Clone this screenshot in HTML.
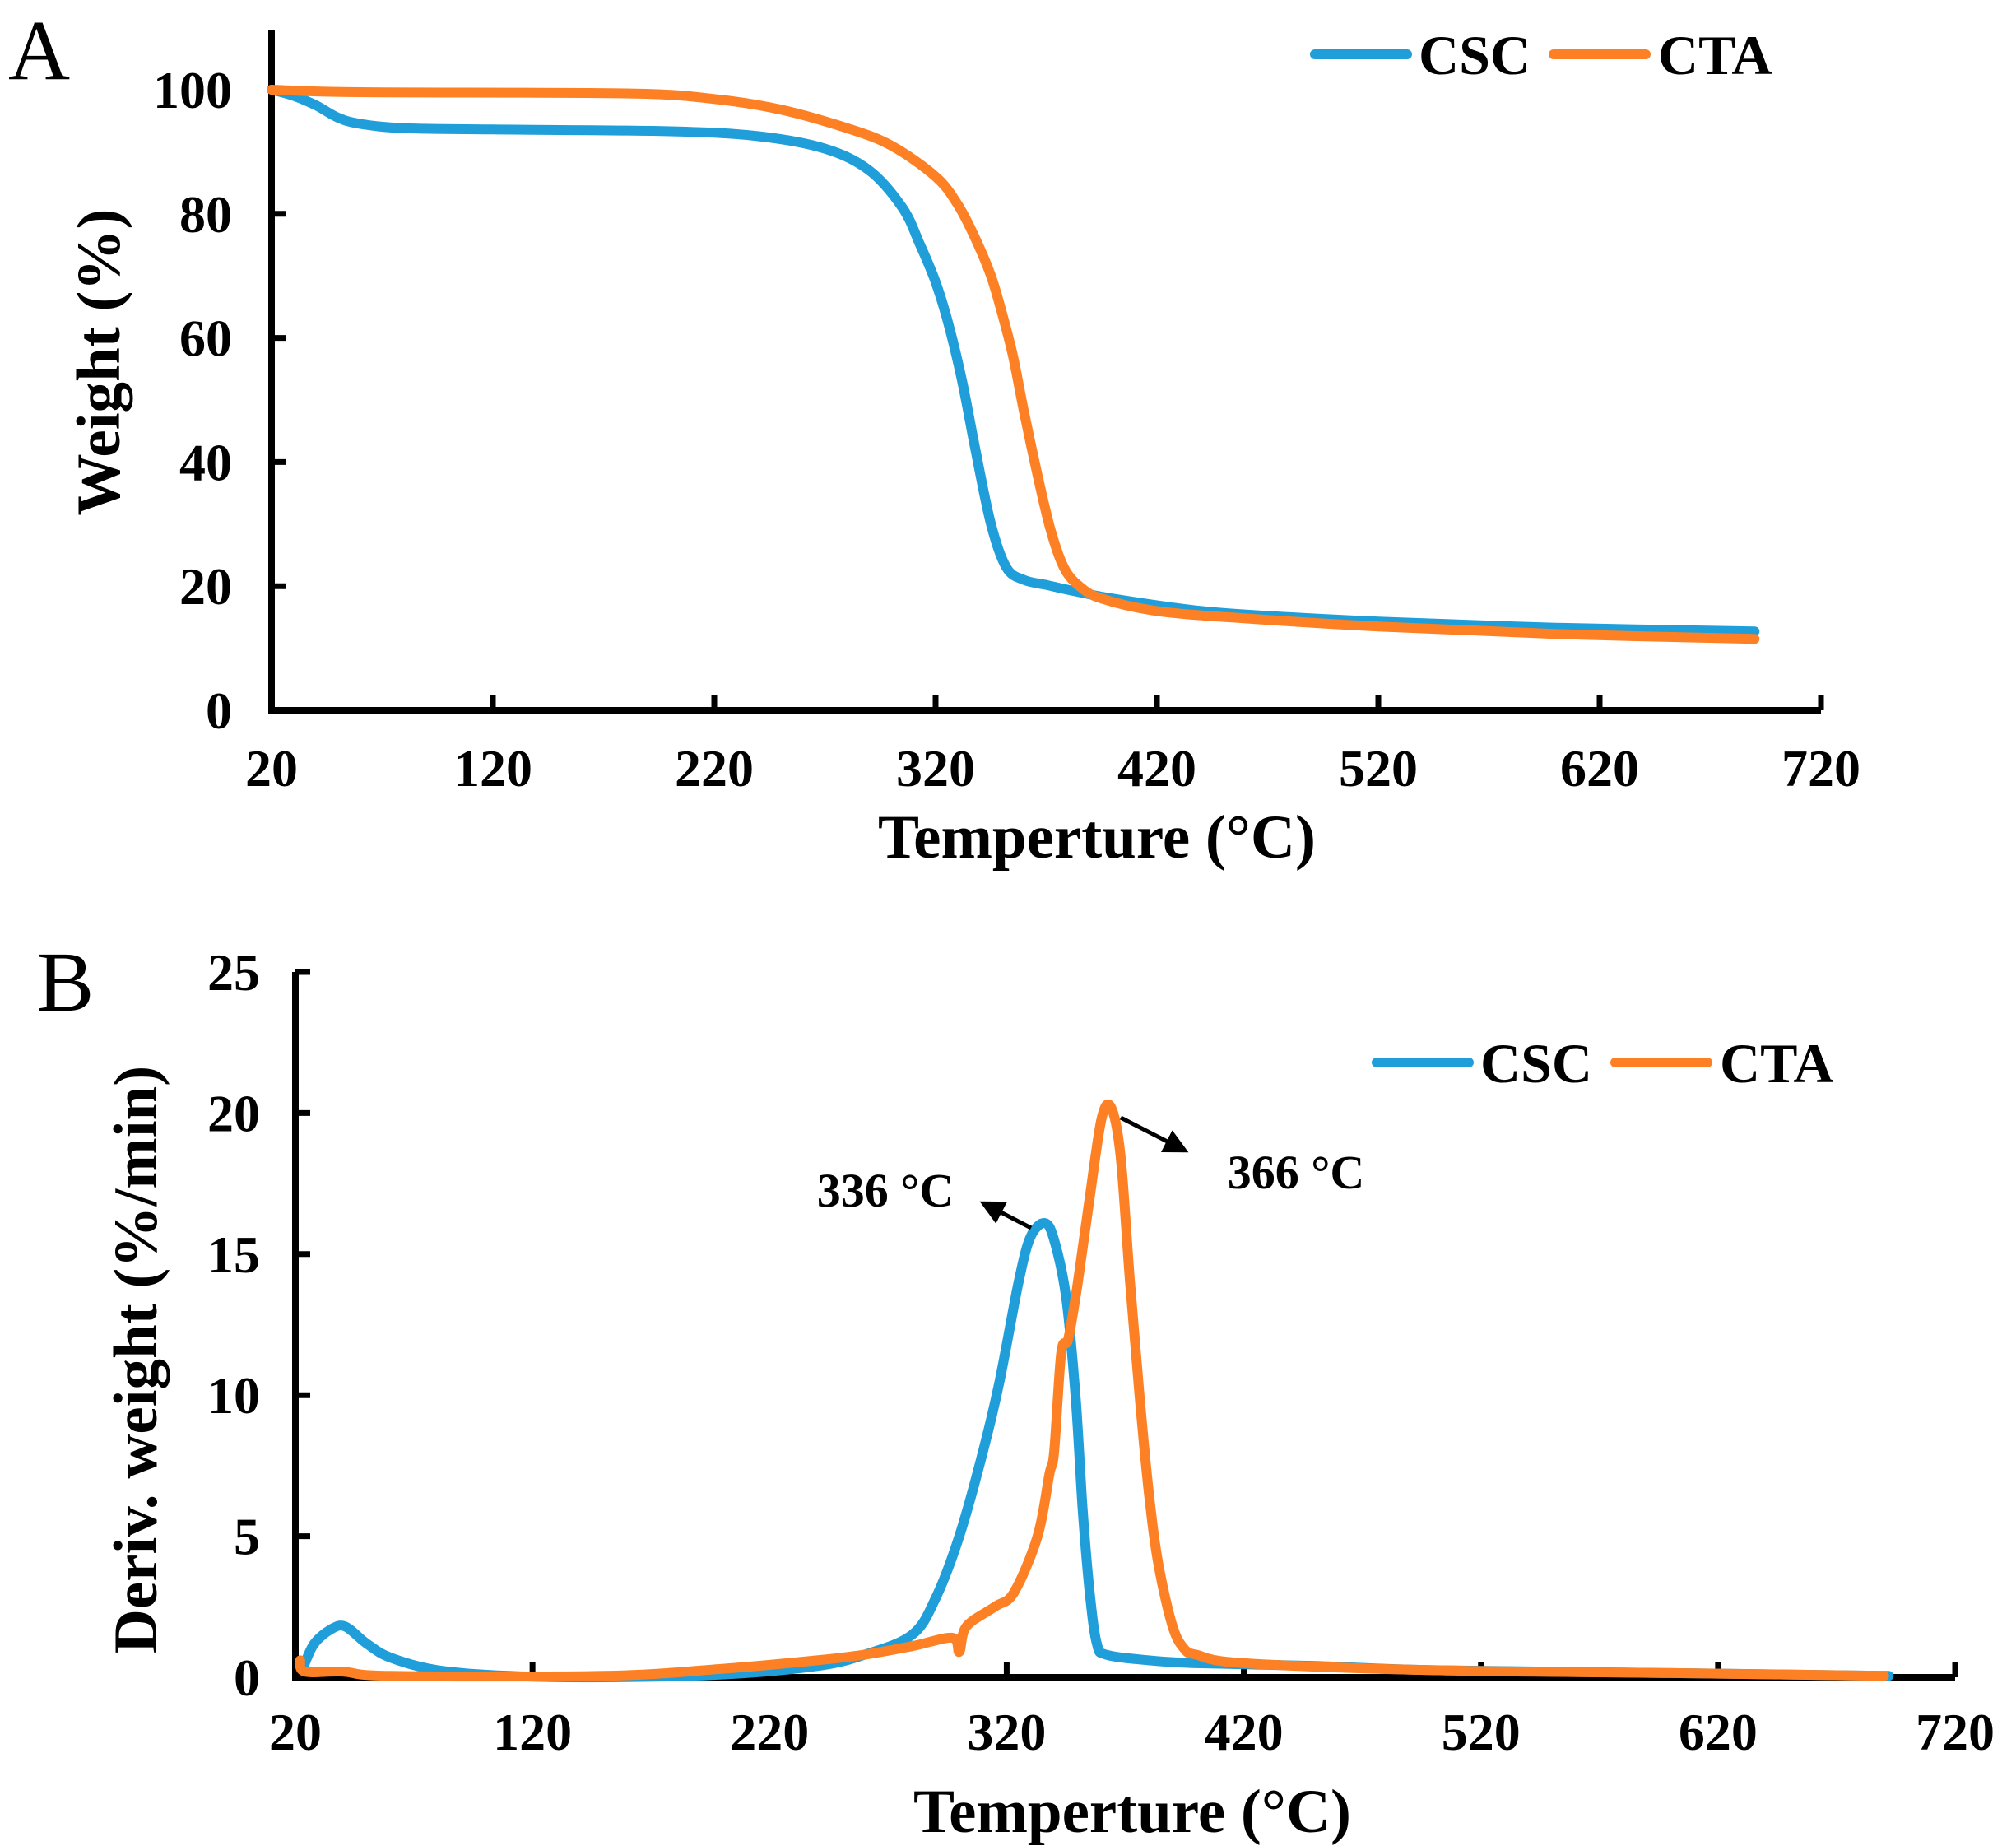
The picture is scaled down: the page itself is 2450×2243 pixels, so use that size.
<!DOCTYPE html>
<html><head><meta charset="utf-8"><style>
html,body{margin:0;padding:0;background:#fff}
svg{display:block}
text{font-family:"Liberation Serif",serif;fill:#000}
.tk{font-size:64px;font-weight:bold}
.ttl{font-size:75px;font-weight:bold}
.lg{font-size:68px;font-weight:bold}
</style></head><body>
<svg id="fig" width="2450" height="2243" viewBox="0 0 2450 2243" xmlns="http://www.w3.org/2000/svg">
<text x="10" y="96" font-size="104">A</text>
<text x="45" y="1228" font-size="104">B</text>
<g id="pa"></g>
<g id="pb"></g>
<text class="ttl" x="1333" y="1042" text-anchor="middle">Temperture (°C)</text>
<text class="ttl" transform="translate(145,440) rotate(-90)" text-anchor="middle">Weight (%)</text>
<text class="ttl" x="1376" y="2226" text-anchor="middle">Temperture (°C)</text>
<text class="ttl" transform="translate(190,1652) rotate(-90)" text-anchor="middle">Deriv. weight (%/min)</text>
<g>
<line x1="1598" y1="66" x2="1710" y2="66" stroke="#1f9ed9" stroke-width="12" stroke-linecap="round"/>
<text class="lg" x="1724" y="90">CSC</text>
<line x1="1888" y1="66" x2="2000" y2="66" stroke="#fd8024" stroke-width="12" stroke-linecap="round"/>
<text class="lg" x="2015" y="90">CTA</text>
</g>
<g>
<line x1="1673" y1="1291" x2="1785" y2="1291" stroke="#1f9ed9" stroke-width="12" stroke-linecap="round"/>
<text class="lg" x="1799" y="1315">CSC</text>
<line x1="1963" y1="1291" x2="2075" y2="1291" stroke="#fd8024" stroke-width="12" stroke-linecap="round"/>
<text class="lg" x="2090" y="1315">CTA</text>
</g>
<defs><marker id="ah" markerWidth="6" markerHeight="6" refX="5" refY="3" orient="auto" markerUnits="strokeWidth"><path d="M0,0 L6,3 L0,6 Z" fill="#000"/></marker></defs>
<line x1="1253" y1="1492" x2="1195" y2="1462" stroke="#000" stroke-width="5" marker-end="url(#ah)"/>
<text x="1076" y="1466" font-size="58" font-weight="bold" text-anchor="middle">336 °C</text>
<line x1="1362" y1="1358" x2="1440" y2="1398" stroke="#000" stroke-width="5" marker-end="url(#ah)"/>
<text x="1575" y="1444" font-size="58" font-weight="bold" text-anchor="middle">366 °C</text>
</svg>
<script>
const xTicks=[20,120,220,320,420,520,620,720];
const aYTicks=[0,20,40,60,80,100];
const bYTicks=[0,5,10,15,20,25];
const aCscT=[20,30,40,50,60,80,120,200,240,270,290,305,313,320,326,332,338,345,352,360,370,380,400,440,480,520,600,690];
const aCscW=[100,99,97.5,95.5,94.5,93.8,93.6,93.3,92.5,90.5,87,81,75,69,62,53,42,30,23,21,20.2,19.4,18,16,15,14.3,13.3,12.7];
const aCtaT=[20,60,180,220,250,280,300,320,330,338,345,350,355,360,366,372,378,385,395,420,460,520,600,690];
const aCtaW=[100,99.6,99.4,98.5,96.8,93.8,91,86,81.5,76,70,64,57,48,38,29,23,20,18,16,14.8,13.5,12.3,11.5];
const bCscT=[24,28,35,41,50,60,80,110,150,200,240,260,280,290,300,310,317,325,330,336,340,345,349,352,355,358,362,380,400,450,500,600,692];
const bCscD=[0.5,1.2,1.7,1.8,1.2,0.7,0.25,0.05,0,0.1,0.4,0.8,1.5,2.8,5,8,10.5,14,15.6,16.1,15.5,13.5,10,6,3,1.2,0.8,0.6,0.5,0.4,0.25,0.15,0.05];
const bCtaT=[22,24,40,60,150,200,240,260,280,297,300,303,315,323,333,338,340,343,346,350,355,360,364,368,372,376,380,384,390,395,400,420,500,600,690];
const bCtaD=[0.6,0.2,0.2,0.05,0.05,0.3,0.6,0.8,1.1,1.4,0.9,1.8,2.5,3,5,7.2,8,11.5,12,14,17,19.8,20.2,18.5,14,10,6.5,4,1.8,1,0.8,0.5,0.25,0.15,0.05];
const NS='http://www.w3.org/2000/svg';
function mk(tag,at,parent){const e=document.createElementNS(NS,tag);for(const k in at)e.setAttribute(k,at[k]);parent.appendChild(e);return e;}
function smooth(p){
  let d='M'+p[0][0].toFixed(1)+','+p[0][1].toFixed(1);
  for(let i=0;i<p.length-1;i++){
    const p0=p[Math.max(0,i-1)],p1=p[i],p2=p[i+1],p3=p[Math.min(p.length-1,i+2)];
    const c1x=p1[0]+(p2[0]-p0[0])/6,c1y=p1[1]+(p2[1]-p0[1])/6;
    const c2x=p2[0]-(p3[0]-p1[0])/6,c2y=p2[1]-(p3[1]-p1[1])/6;
    d+=` C${c1x.toFixed(1)},${c1y.toFixed(1)} ${c2x.toFixed(1)},${c2y.toFixed(1)} ${p2[0].toFixed(1)},${p2[1].toFixed(1)}`;
  }
  return d;
}
function panel(g,x0,x1,y0,yTop,yMax,yTicks,yLblX,series,tickDy,pfx){
  const sx=t=>x0+(t-20)/700*(x1-x0);
  const sy=v=>y0-v/yMax*(y0-yTop);
  let ax=mk('path',{d:`M${x0},${yTop-(pfx==='a'?73:0)} L${x0},${y0} L${x1},${y0}`,fill:'none',stroke:'#000','stroke-width':8},g);
  
  
  xTicks.forEach(t=>{
    const l=mk('line',{x1:sx(t),x2:sx(t),y1:y0,y2:y0-18,stroke:'#000','stroke-width':7},g);
    
    
    const tx=mk('text',{x:sx(t),y:y0+tickDy,'text-anchor':'middle',class:'tk'},g);tx.textContent=t;
    
    
  });
  yTicks.forEach(v=>{
    const l=mk('line',{x1:x0,x2:x0+18,y1:sy(v),y2:sy(v),stroke:'#000','stroke-width':7},g);
    
    
    const tx=mk('text',{x:yLblX,y:sy(v)+22,'text-anchor':'end',class:'tk'},g);tx.textContent=v;
    
    
  });
  series.forEach(s=>{
    const pts=s.t.map((t,i)=>[sx(t),sy(s.v[i])]);
    const p=mk('path',{d:smooth(pts),fill:'none',stroke:s.c,'stroke-width':12,'stroke-linejoin':'round','stroke-linecap':'round'},g);
    
    
  });
}
panel(document.getElementById('pa'),330,2213,863,109,100,aYTicks,282,
 [{t:aCscT,v:aCscW,c:'#1f9ed9',n:'a-csc-line'},{t:aCtaT,v:aCtaW,c:'#fd8024',n:'a-cta-line'}],92,'a');
panel(document.getElementById('pb'),359,2376,2038,1181,25,bYTicks,316,
 [{t:bCscT,v:bCscD,c:'#1f9ed9',n:'b-csc-line'},{t:bCtaT,v:bCtaD,c:'#fd8024',n:'b-cta-line'}],88,'b');
</script>
</body></html>
